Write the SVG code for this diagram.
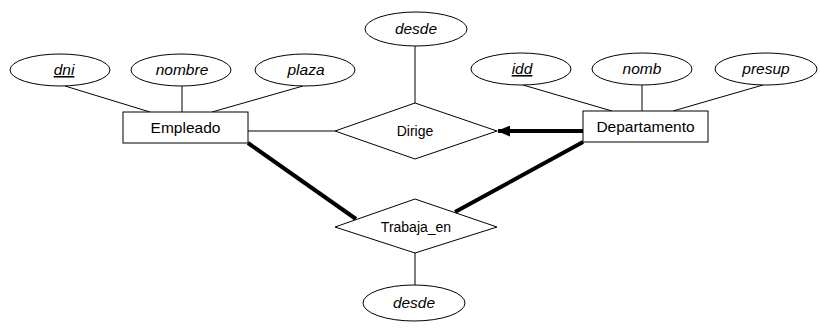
<svg xmlns="http://www.w3.org/2000/svg" width="820" height="333" viewBox="0 0 820 333">
<defs>
<marker id="arr" markerWidth="13" markerHeight="11" refX="12" refY="5.5" orient="auto" markerUnits="userSpaceOnUse">
<path d="M0,0 L13,5.5 L0,11 z" fill="#000"/>
</marker>
<style>
.s{fill:#fff;stroke:#000;stroke-width:1}
.l{stroke:#000;stroke-width:1;fill:none}
.t{stroke:#000;stroke-width:4;fill:none}
.a{font-family:"Liberation Sans",Arial,sans-serif;font-size:15.5px;font-style:italic;text-anchor:middle}
.e{font-family:"Liberation Sans",Arial,sans-serif;font-size:15.5px;text-anchor:middle}
.r{font-family:"Liberation Sans",Arial,sans-serif;font-size:14px;text-anchor:middle}
.u{text-decoration:underline}
</style>
</defs>
<rect width="820" height="333" fill="#fff"/>
<g id="connectors">
<line class="l" x1="65" y1="86" x2="150" y2="112"/>
<line class="l" x1="182" y1="86" x2="182" y2="112"/>
<line class="l" x1="303" y1="86" x2="212" y2="112"/>
<line class="l" x1="523" y1="85" x2="612" y2="111"/>
<line class="l" x1="642" y1="85" x2="642" y2="111"/>
<line class="l" x1="763" y1="85" x2="673" y2="111"/>
<line class="l" x1="248" y1="131" x2="335" y2="131"/>
<line class="l" x1="415" y1="46" x2="415" y2="103"/>
<line class="t" x1="583" y1="131" x2="498" y2="131" marker-end="url(#arr)"/>
<line class="t" x1="248" y1="143" x2="356" y2="219"/>
<line class="t" x1="583" y1="142" x2="455" y2="212"/>
<line class="l" x1="415" y1="253" x2="415" y2="285"/>
</g>
<g id="dni"><ellipse class="s" cx="60" cy="70" rx="50" ry="16"/><text class="a u" x="64" y="75">dni</text></g>
<g id="nombre"><ellipse class="s" cx="181" cy="70" rx="50" ry="16"/><text class="a" x="182" y="75">nombre</text></g>
<g id="plaza"><ellipse class="s" cx="305" cy="70" rx="50" ry="16"/><text class="a" x="306" y="75">plaza</text></g>
<g id="idd"><ellipse class="s" cx="521" cy="69" rx="50" ry="16"/><text class="a u" x="522" y="74">idd</text></g>
<g id="nomb"><ellipse class="s" cx="642" cy="69" rx="50" ry="16"/><text class="a" x="642" y="74">nomb</text></g>
<g id="presup"><ellipse class="s" cx="766" cy="69" rx="51" ry="16"/><text class="a" x="766" y="74">presup</text></g>
<g id="desde1"><ellipse class="s" cx="416" cy="29" rx="51" ry="17"/><text class="a" x="416" y="34">desde</text></g>
<g id="empleado"><rect class="s" x="123" y="112" width="125" height="31"/><text class="e" x="185.5" y="133">Empleado</text></g>
<g id="departamento"><rect class="s" x="583" y="111" width="125" height="31"/><text class="e" x="645.5" y="132">Departamento</text></g>
<g id="dirige"><polygon class="s" points="335,131 415,103 497,131 415,159"/><text class="r" x="415" y="136">Dirige</text></g>
<g id="trabaja_en"><polygon class="s" points="335,227 415,199 497,227 415,253"/><text class="r" x="416" y="232">Trabaja_en</text></g>
<g id="desde2"><ellipse class="s" cx="414" cy="303" rx="51" ry="18"/><text class="a" x="414" y="308">desde</text></g>
</svg>
